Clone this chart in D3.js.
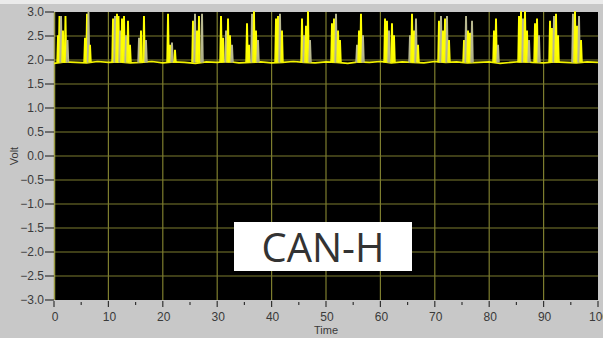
<!DOCTYPE html>
<html>
<head>
<meta charset="utf-8">
<script src="https://cdn.jsdelivr.net/npm/d3@7"></script>
<style>
  body { margin: 0; background: #c8c8c8; }
  svg { display: block; }
</style>
</head>
<body>
<svg id="chart" width="603" height="338"></svg>
<script>
// axis ticks
const xTicks = [0, 10, 20, 30, 40, 50, 60, 70, 80, 90, 100];
const yTicks = [3.0, 2.5, 2.0, 1.5, 1.0, 0.5, 0.0, -0.5, -1.0, -1.5, -2.0, -2.5, -3.0];

// idle (recessive) level of CAN-H, sampled every 2 time units
const baseTimes = d3.range(0, 101, 2);
const baseVolts = [1.93,1.96,1.95,1.94,1.97,1.95,1.96,1.94,1.95,1.97,1.94,1.96,1.95,1.93,1.96,1.95,1.97,1.94,1.95,1.96,1.94,1.95,1.97,1.95,1.94,1.96,1.95,1.93,1.96,1.95,1.97,1.94,1.96,1.95,1.94,1.97,1.95,1.96,1.94,1.95,1.96,1.93,1.95,1.97,1.95,1.94,1.96,1.95,1.94,1.96,1.95];

// dominant bit spikes in each message burst
const spikeTimes = [
  0.74, 1.01, 1.29, 1.65, 2.11, 2.48,
  5.70, 6.07, 6.34, 6.62,
  10.85, 11.21, 11.58, 11.86, 12.13, 12.50, 12.87, 13.24, 13.60, 13.97,
  15.63, 15.99, 16.54, 16.91,
  20.96, 21.32, 21.69, 22.24,
  25.55, 25.92, 26.29, 26.65, 27.21,
  30.70, 31.07, 31.62, 31.99, 32.35, 32.72,
  35.48, 35.85, 36.40, 36.76, 37.13, 37.50,
  40.81, 41.18, 41.54, 41.91,
  45.59, 45.96, 46.32, 46.69, 47.06,
  51.10, 51.47, 51.84, 52.21, 52.57,
  55.70, 56.07, 56.43, 56.80,
  60.85, 61.21, 61.58, 62.13, 62.50,
  65.44, 65.81, 66.18, 66.54, 66.91,
  70.77, 71.14, 71.51, 71.88, 72.24, 72.61,
  75.37, 75.74, 76.10, 76.47, 76.84,
  80.88, 81.25, 81.62,
  85.48, 85.85, 86.21, 86.58, 86.95, 87.32, 88.42, 88.79, 89.15,
  91.18, 91.54, 91.91, 92.28, 92.65,
  95.40, 95.77, 96.14, 96.51, 96.88
];
const spikeVolts = [
  2.5, 2.9, 2.9, 2.6, 2.9, 2.4,
  2.45, 2.95, 3.0, 2.3,
  2.85, 2.9, 2.95, 2.9, 2.6, 2.85, 2.9, 2.5, 2.8, 2.3,
  2.45, 2.6, 2.9, 2.4,
  2.95, 2.3, 2.35, 2.2,
  2.8, 2.95, 2.6, 2.9, 2.95,
  2.9, 2.45, 2.6, 2.85, 2.5, 2.3,
  2.75, 2.3, 2.95, 3.0, 2.6, 2.4,
  2.85, 2.9, 2.95, 2.6,
  2.85, 2.5, 2.7, 3.0, 2.4,
  2.75, 2.85, 2.95, 2.6, 2.4,
  2.3, 2.6, 2.95, 2.5,
  2.85, 2.8, 2.6, 2.75, 2.5,
  2.5, 2.95, 2.6, 2.85, 2.3,
  2.8, 2.9, 2.6, 2.85, 2.9, 2.4,
  2.4, 2.9, 2.6, 2.55, 2.8,
  2.6, 2.85, 2.3,
  2.9, 3.0, 2.85, 3.0, 2.6, 2.4, 2.75, 2.85, 2.5,
  2.8, 2.65, 2.9, 2.95, 2.5,
  2.95, 3.0, 2.7, 2.9, 2.4
];

const svg = d3.select("#chart");
const margin = { top: 12, right: 5, bottom: 38, left: 54 };
const width = 603 - margin.left - margin.right;
const height = 338 - margin.top - margin.bottom;

// light strip at the very top of the panel
svg.append("rect").attr("x", 0).attr("y", 0).attr("width", 603).attr("height", 4).attr("fill", "#ebebeb");

const g = svg.append("g").attr("transform", `translate(${margin.left},${margin.top})`);

const x = d3.scaleLinear().domain([0, 100]).range([0, width]);
const y = d3.scaleLinear().domain([-3, 3]).range([height, 0]);

g.append("rect").attr("width", width).attr("height", height).attr("fill", "#000");

// grid
const gridColor = "#7d7d2e";
g.selectAll(".vgrid").data(xTicks.slice(1, -1)).enter().append("line")
  .attr("x1", d => x(d)).attr("x2", d => x(d))
  .attr("y1", 0).attr("y2", height)
  .attr("stroke", gridColor).attr("stroke-width", 1.2);
g.selectAll(".hgrid").data(yTicks.slice(1, -1)).enter().append("line")
  .attr("x1", 0).attr("x2", width)
  .attr("y1", d => y(d)).attr("y2", d => y(d))
  .attr("stroke", gridColor).attr("stroke-width", 1.2);
g.append("line").attr("x1", 0.5).attr("x2", 0.5).attr("y1", 0).attr("y2", height)
  .attr("stroke", "#9a9a40").attr("stroke-width", 1.5);

// trace
g.append("clipPath").attr("id", "clip").append("rect").attr("width", width).attr("height", height + 1).attr("y", -1);
const trace = g.append("g").attr("clip-path", "url(#clip)");

const line = d3.line().x(d => x(d[0])).y(d => y(d[1]));
trace.append("path")
  .attr("d", line(baseTimes.map((t, i) => [t, baseVolts[i]])))
  .attr("fill", "none").attr("stroke", "#f2f200").attr("stroke-width", 1.6);

const halfW = 0.18;
spikeTimes.forEach((t, i) => {
  const pts = [[t - halfW, 1.95], [t - 0.04, spikeVolts[i]], [t + 0.04, spikeVolts[i]], [t + halfW, 1.95]];
  trace.append("path")
    .attr("d", line(pts))
    .attr("fill", i % 3 === 2 ? "#8c8c60" : "#d8d800")
    .attr("stroke", i % 3 === 2 ? "#b8b890" : "#ffff00")
    .attr("stroke-width", 1.5);
});

// y axis
const yAxis = g.append("g");
yAxis.selectAll("line").data(yTicks).enter().append("line")
  .attr("x1", -9).attr("x2", 0)
  .attr("y1", d => y(d)).attr("y2", d => y(d))
  .attr("stroke", "#333").attr("stroke-width", 1.2);
yAxis.selectAll("text").data(yTicks).enter().append("text")
  .attr("x", -10).attr("y", d => y(d) + 4)
  .attr("text-anchor", "end")
  .attr("font-family", "Liberation Sans, Arial, sans-serif")
  .attr("font-size", 12).attr("fill", "#3a3a3a")
  .text(d => d3.format(".1f")(d));

// x axis
const xAxis = g.append("g").attr("transform", `translate(0,${height})`);
xAxis.selectAll(".major").data(xTicks).enter().append("line")
  .attr("x1", d => x(d)).attr("x2", d => x(d))
  .attr("y1", 1).attr("y2", 7)
  .attr("stroke", "#333").attr("stroke-width", 1.2);
xAxis.selectAll(".minor").data(xTicks.slice(0, -1).map(d => d + 5)).enter().append("line")
  .attr("x1", d => x(d)).attr("x2", d => x(d))
  .attr("y1", 2).attr("y2", 5)
  .attr("stroke", "#333").attr("stroke-width", 1.2);
xAxis.selectAll("text").data(xTicks).enter().append("text")
  .attr("x", d => x(d) + 1).attr("y", 21)
  .attr("text-anchor", "middle")
  .attr("font-family", "Liberation Sans, Arial, sans-serif")
  .attr("font-size", 12).attr("fill", "#3a3a3a")
  .text(d => d);

// axis titles
svg.append("text")
  .attr("transform", `translate(18,156) rotate(-90)`)
  .attr("text-anchor", "middle")
  .attr("font-family", "Liberation Sans, Arial, sans-serif")
  .attr("font-size", 11).attr("fill", "#3a3a3a")
  .text("Volt");
svg.append("text")
  .attr("x", margin.left + width / 2).attr("y", 334)
  .attr("text-anchor", "middle")
  .attr("font-family", "Liberation Sans, Arial, sans-serif")
  .attr("font-size", 11).attr("fill", "#3a3a3a")
  .text("Time");

// signal name label
svg.append("rect").attr("x", 234).attr("y", 222).attr("width", 178).attr("height", 49).attr("fill", "#fff");
svg.append("text")
  .attr("x", 323).attr("y", 262)
  .attr("text-anchor", "middle")
  .attr("font-family", "Open Sans, Noto Sans, sans-serif")
  .attr("font-size", 40).attr("fill", "#333")
  .text("CAN-H");
</script>
</body>
</html>
